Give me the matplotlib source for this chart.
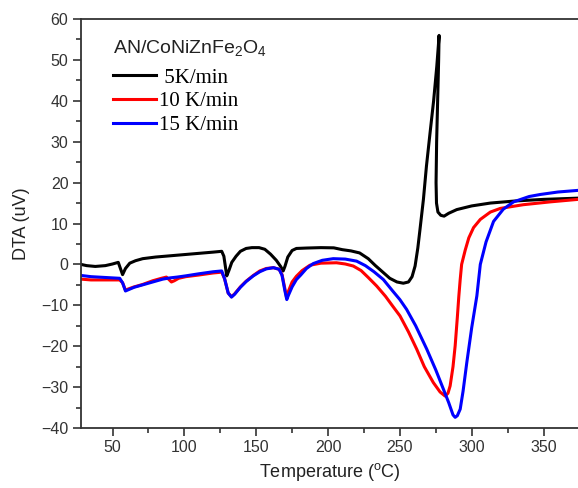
import matplotlib
matplotlib.use("Agg")
import matplotlib.pyplot as plt
from matplotlib.ticker import MultipleLocator

plt.rcParams['font.family'] = ['Liberation Sans', 'DejaVu Sans']
plt.rcParams['mathtext.default'] = 'regular'

# 5 K/min
t_5 = [28, 32, 38, 45, 50, 54, 55.5, 57, 59, 62, 66, 71, 80, 90, 100, 110, 120, 126,
       127.5, 129.5, 131, 133, 136, 139, 143, 147, 152, 156, 160, 164, 167, 168.8,
       170, 172, 175, 178, 185, 195, 204, 210, 216, 222, 228, 233, 238.5, 243, 248,
       252.4, 256, 258.5, 260.6, 262.5, 264, 266.4, 268.5, 271, 273.5, 275.7, 276.8,
       277.3, 277.0, 276.3, 275.6, 275.2, 275.5, 276.5, 278.5, 280.8, 284, 289.6,
       300, 313, 330, 350, 374]
dta_5 = [0.0, -0.3, -0.5, -0.3, 0.1, 0.5, -1.0, -2.5, -1.0, 0.3, 0.9, 1.4, 1.8, 2.1,
         2.4, 2.7, 3.0, 3.2, 2.0, -2.8, -1.5, 0.5, 2.0, 3.2, 3.9, 4.1, 4.1, 3.7, 2.5,
         1.0, -0.5, -1.6, -0.5, 1.8, 3.4, 3.9, 4.0, 4.1, 4.05, 3.6, 3.3, 2.8, 1.4,
         -0.3, -2.0, -3.4, -4.3, -4.6, -4.3, -3.0, -0.4, 4.0, 8.5, 15.9, 24, 32.1, 40,
         48.4, 53.5, 56.0, 50, 40, 30, 20, 15, 12.8, 12.0, 11.8, 12.5, 13.4, 14.3,
         15.0, 15.5, 15.9, 16.2]

# 10 K/min
t_10 = [28, 35, 45, 55, 57, 59, 61, 65, 71, 78, 84, 87.5, 89, 91, 93, 96, 101, 110,
        120, 126, 128, 130.5, 132.8, 135, 139, 143, 148, 152.5, 157, 162, 166, 168,
        170, 171.1, 172.5, 175, 178, 182, 187.4, 195, 205.9, 212, 217.6, 223, 228,
        233.9, 240, 245, 250.1, 256, 261.7, 267, 273.3, 278, 281.5, 283.5, 285, 287,
        288.5, 290, 291, 292, 293, 295.5, 298, 301.3, 306, 313, 320, 336, 355, 374]
dta_10 = [-3.6, -3.8, -3.8, -3.8, -4.5, -6.3, -6.0, -5.5, -4.9, -4.0, -3.4, -3.1,
          -3.6, -4.3, -4.0, -3.4, -3.0, -2.6, -2.1, -1.9, -3.5, -7.0, -7.9, -7.2,
          -5.5, -4.1, -2.7, -1.6, -1.0, -0.8, -1.2, -2.5, -6.0, -8.0, -6.5, -4.3,
          -2.9, -1.5, -0.2, 0.3, 0.4, 0.1, -0.4, -1.5, -3.2, -5.3, -7.8, -10.2, -12.6,
          -16.5, -20.7, -25, -28.9, -31.2, -32.2, -31.5, -29.7, -25, -19.9, -13, -8,
          -3.7, 0, 3.5, 6.5, 9.0, 11.0, 12.8, 13.7, 14.6, 15.3, 15.9]

# 15 K/min
t_15 = [28, 35, 45, 55, 57, 59, 61, 65, 71, 78, 85, 90, 95, 101, 110, 120, 126, 128,
        130.5, 132.8, 135, 139, 143, 148, 152.5, 157, 162, 166, 168, 170, 171.3,
        172.5, 175, 178, 181, 185, 189.7, 196, 203.6, 212, 219.9, 226, 232, 238.5,
        245, 250, 254.7, 261, 268.7, 275, 280.3, 284, 287, 288.5, 290, 292, 294,
        296.6, 300, 303.6, 306, 310, 315.2, 322, 329.2, 340, 347.8, 360, 374]
dta_15 = [-2.7, -3.0, -3.2, -3.4, -4.5, -6.5, -6.2, -5.6, -5.0, -4.3, -3.6, -3.3,
          -3.1, -2.8, -2.3, -1.8, -1.6, -3.5, -7.0, -8.0, -7.3, -5.6, -4.2, -2.8,
          -1.8, -1.1, -0.8, -1.2, -2.7, -6.5, -8.6, -7.5, -5.5, -3.7, -2.6, -1.0,
          0.2, 1.0, 1.4, 1.3, 0.8, -0.3, -1.8, -3.7, -6.5, -8.6, -11, -15, -20.7,
          -25.8, -30.5, -33.8, -36.8, -37.4, -37, -35.4, -31, -24, -15.5, -7.7, 0,
          5.5, 10.5, 13.5, 15.3, 16.6, 17.1, 17.7, 18.1]

labels = [' 5K/min', '10 K/min', '15 K/min']
sample = 'AN/CoNiZnFe$_2$O$_4$'

fig = plt.figure(figsize=(5.78, 4.88), dpi=100)
ax = fig.add_axes([0.140, 0.123, 0.860, 0.838])

l5, = ax.plot(t_5, dta_5, color='black', lw=2.2, solid_joinstyle='round')
l10, = ax.plot(t_10, dta_10, color='#ff0000', lw=2.2, solid_joinstyle='round')
l15, = ax.plot(t_15, dta_15, color='#0000ff', lw=2.2, solid_joinstyle='round')

ax.set_xlim(28, 374)
ax.set_ylim(-40, 60)
ax.xaxis.set_major_locator(MultipleLocator(50))
ax.xaxis.set_minor_locator(MultipleLocator(25))
ax.yaxis.set_major_locator(MultipleLocator(10))
ax.yaxis.set_minor_locator(MultipleLocator(5))

for s in ['left', 'bottom', 'top']:
    ax.spines[s].set_linewidth(1.3)
    ax.spines[s].set_color('#333333')
ax.spines['right'].set_visible(False)
ax.tick_params(which='major', direction='out', length=6, width=1.2,
               labelsize=11.5, colors='#333333', pad=3)
ax.tick_params(which='minor', direction='out', length=3.5, width=1.2,
               colors='#333333')
ax.tick_params(axis='x', which='both', top=False)
ax.tick_params(axis='y', which='both', right=False)

ax.set_xlabel('Temperature ($^{o}$C)', fontsize=13, color='#222222', labelpad=4)
ax.set_ylabel('DTA (uV)', fontsize=13, color='#222222', labelpad=8)

ax.text(0.064, 0.929, sample, transform=ax.transAxes, fontsize=14,
        color='#222222', ha='left', va='center')
ax.legend([l5, l10, l15], labels,
          loc='upper left', bbox_to_anchor=(0.064, 0.88), frameon=False,
          prop={'family': 'Liberation Serif', 'size': 15},
          handlelength=2.1, handletextpad=0.1, labelspacing=0.2,
          borderaxespad=0, borderpad=0)

fig.savefig('out.png', dpi=100)
